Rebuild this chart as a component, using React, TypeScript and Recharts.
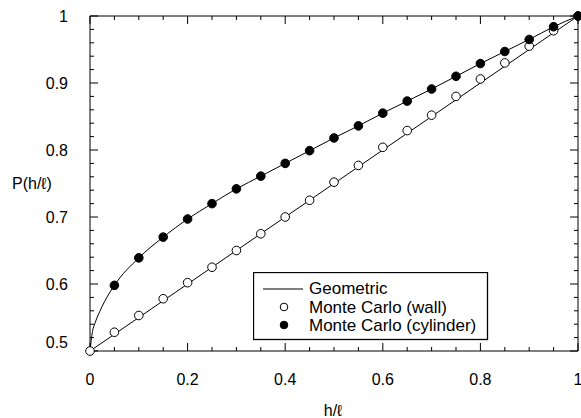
import React from 'react';
import { ComposedChart, Line, XAxis, YAxis, Legend, Label, ReferenceLine } from 'recharts';

// Monte Carlo estimates, sampled every 0.05 in h/l
const wallH = [0, 0.05, 0.1, 0.15, 0.2, 0.25, 0.3, 0.35, 0.4, 0.45, 0.5, 0.55, 0.6, 0.65, 0.7, 0.75, 0.8, 0.85, 0.9, 0.95, 1];
const wallP = [0.5, 0.528, 0.553, 0.578, 0.602, 0.625, 0.65, 0.675, 0.7, 0.725, 0.752, 0.777, 0.804, 0.829, 0.852, 0.88, 0.906, 0.93, 0.955, 0.978, 1];

const cylH = [0.05, 0.1, 0.15, 0.2, 0.25, 0.3, 0.35, 0.4, 0.45, 0.5, 0.55, 0.6, 0.65, 0.7, 0.75, 0.8, 0.85, 0.9, 0.95, 1];
const cylP = [0.598, 0.639, 0.67, 0.697, 0.72, 0.742, 0.761, 0.78, 0.799, 0.818, 0.836, 0.855, 0.873, 0.891, 0.91, 0.929, 0.947, 0.965, 0.984, 1];

// geometric predictions
const geoWallH = [0, 0.5, 1];
const geoWallP = [0.5, 0.75, 1];
const geoCylH = [0, 0.005, 0.01, 0.02, 0.03, 0.05, 0.1, 0.15, 0.2, 0.25, 0.3, 0.35, 0.4, 0.45, 0.5, 0.55, 0.6, 0.65, 0.7, 0.75, 0.8, 0.85, 0.9, 0.95, 1];
const geoCylP = [0.5, 0.529, 0.541, 0.559, 0.574, 0.598, 0.639, 0.67, 0.697, 0.72, 0.742, 0.761, 0.78, 0.799, 0.818, 0.836, 0.855, 0.873, 0.891, 0.91, 0.929, 0.947, 0.965, 0.984, 1];

const xTicks = [0, 0.05, 0.1, 0.15, 0.2, 0.25, 0.3, 0.35, 0.4, 0.45, 0.5, 0.55, 0.6, 0.65, 0.7, 0.75, 0.8, 0.85, 0.9, 0.95, 1];
const xLabels = [0, 0.2, 0.4, 0.6, 0.8, 1];
const yTicks = [0.5, 0.52, 0.54, 0.56, 0.58, 0.6, 0.62, 0.64, 0.66, 0.68, 0.7, 0.72, 0.74, 0.76, 0.78, 0.8, 0.82, 0.84, 0.86, 0.88, 0.9, 0.92, 0.94, 0.96, 0.98, 1];
const yLabels = [0.5, 0.6, 0.7, 0.8, 0.9, 1];

const FONT = '"Liberation Sans", Arial, Helvetica, sans-serif';
const W = 581;
const H = 418;
const MARGIN = { top: 16, right: 3, bottom: 0, left: 0 };
const Y_AXIS_W = 90;
const X_AXIS_H = 67;
const X_MIN = 0;
const X_MAX = 1;
const Y_MIN = 0.5;
const Y_MAX = 1;
const MAJOR = 8;
const MINOR = 4;

// tick lengths in px -> data units
const PLOT_W = W - MARGIN.left - MARGIN.right - Y_AXIS_W;
const PLOT_H = H - MARGIN.top - MARGIN.bottom - X_AXIS_H;
const X_PER_PX = (X_MAX - X_MIN) / PLOT_W;
const Y_PER_PX = (Y_MAX - Y_MIN) / PLOT_H;

const pts = (xs: number[], ys: number[]) => xs.map((x, i) => ({ x, y: ys[i] }));

const isLabel = (v: number, list: number[]) => list.some((l) => Math.abs(l - v) < 1e-9);

// inward ticks on all four sides of the frame
const xTickSegs = xTicks.flatMap((v) => {
  const l = (isLabel(v, xLabels) ? MAJOR : MINOR) * Y_PER_PX;
  return [
    [{ x: v, y: Y_MIN }, { x: v, y: Y_MIN + l }],
    [{ x: v, y: Y_MAX }, { x: v, y: Y_MAX - l }],
  ];
});
const yTickSegs = yTicks.flatMap((v) => {
  const l = (isLabel(v, yLabels) ? MAJOR : MINOR) * X_PER_PX;
  return [
    [{ x: X_MIN, y: v }, { x: X_MIN + l, y: v }],
    [{ x: X_MAX, y: v }, { x: X_MAX - l, y: v }],
  ];
});

const XTickLabel = (props: any) => {
  const v = props.payload.value;
  if (!isLabel(v, xLabels)) return <g />;
  return (
    <text x={Number(props.x)} y={Number(props.y) + 28} dy="0.35em" textAnchor="middle" fontFamily={FONT} fontSize={16} fill="#000">
      {String(v)}
    </text>
  );
};

const YTickLabel = (props: any) => {
  const v = props.payload.value;
  if (!isLabel(v, yLabels)) return <g />;
  const y = Number(props.y);
  return (
    <text x={Number(props.x) - 22} y={v === 0.5 ? y - 9 : y} dy="0.35em" textAnchor="end" fontFamily={FONT} fontSize={16} fill="#000">
      {String(v)}
    </text>
  );
};

const LegendBox = () => (
  <svg width={236} height={69} style={{ display: 'block' }}>
    <rect x={0.5} y={0.5} width={234} height={67} fill="#fff" stroke="#000" strokeWidth={1.3} />
    <line x1={10} x2={50} y1={17} y2={17} stroke="#000" strokeWidth={1} />
    <circle cx={31} cy={35} r={3.8} fill="#fff" stroke="#000" strokeWidth={1} />
    <circle cx={31} cy={53} r={3.8} fill="#000" stroke="#000" strokeWidth={1} />
    <g fontFamily={FONT} fontSize={17} fill="#000">
      <text x={56} y={16} dy="0.35em">Geometric</text>
      <text x={56} y={35} dy="0.35em">Monte Carlo (wall)</text>
      <text x={56} y={53} dy="0.35em">Monte Carlo (cylinder)</text>
    </g>
  </svg>
);

export default function App() {
  const axisLine = { stroke: '#000', strokeWidth: 1 };
  return (
    <div style={{ position: 'absolute', left: 0, top: 0, background: '#fff' }}>
      <ComposedChart width={W} height={H} margin={MARGIN}>
        <XAxis
          xAxisId="b"
          type="number"
          dataKey="x"
          domain={[X_MIN, X_MAX]}
          ticks={xTicks}
          interval={0}
          height={X_AXIS_H}
          tickSize={0}
          tickMargin={0}
          tickLine={false}
          axisLine={axisLine}
          tick={(p: any) => <XTickLabel {...p} />}
        >
          <Label
            content={() => (
              <text x={333} y={410} dy="0.35em" textAnchor="middle" fontFamily={FONT} fontSize={16} fill="#000">
                h/ℓ
              </text>
            )}
          />
        </XAxis>
        <YAxis
          yAxisId="l"
          type="number"
          domain={[Y_MIN, Y_MAX]}
          ticks={yTicks}
          interval={0}
          width={Y_AXIS_W}
          tickSize={0}
          tickMargin={0}
          tickLine={false}
          axisLine={axisLine}
          tick={(p: any) => <YTickLabel {...p} />}
        >
          <Label
            content={() => (
              <text x={12} y={183} dy="0.35em" textAnchor="start" fontFamily={FONT} fontSize={16} fill="#000">
                P(h/ℓ)
              </text>
            )}
          />
        </YAxis>
        {/* top and right edges of the frame */}
        <ReferenceLine xAxisId="b" yAxisId="l" y={Y_MAX} stroke="#000" strokeWidth={1} />
        <ReferenceLine xAxisId="b" yAxisId="l" x={X_MAX} stroke="#000" strokeWidth={1} />
        {xTickSegs.map((s, i) => (
          <ReferenceLine key={`xt${i}`} xAxisId="b" yAxisId="l" segment={s} stroke="#000" strokeWidth={1} />
        ))}
        {yTickSegs.map((s, i) => (
          <ReferenceLine key={`yt${i}`} xAxisId="b" yAxisId="l" segment={s} stroke="#000" strokeWidth={1} />
        ))}
        <Line
          xAxisId="b"
          yAxisId="l"
          data={pts(geoWallH, geoWallP)}
          dataKey="y"
          type="linear"
          stroke="#000"
          strokeWidth={1}
          dot={false}
          activeDot={false}
          legendType="none"
          isAnimationActive={false}
        />
        <Line
          xAxisId="b"
          yAxisId="l"
          data={pts(geoCylH, geoCylP)}
          dataKey="y"
          type="monotone"
          stroke="#000"
          strokeWidth={1}
          dot={false}
          activeDot={false}
          legendType="none"
          isAnimationActive={false}
        />
        <Line
          xAxisId="b"
          yAxisId="l"
          data={pts(wallH, wallP)}
          dataKey="y"
          stroke="none"
          dot={{ r: 4.3, fill: '#fff', stroke: '#000', strokeWidth: 1, clipDot: false }}
          activeDot={false}
          legendType="none"
          isAnimationActive={false}
        />
        <Line
          xAxisId="b"
          yAxisId="l"
          data={pts(cylH, cylP)}
          dataKey="y"
          stroke="none"
          dot={{ r: 4.3, fill: '#000', stroke: '#000', strokeWidth: 1, clipDot: false }}
          activeDot={false}
          legendType="none"
          isAnimationActive={false}
        />
        <Legend
          layout="horizontal"
          verticalAlign="middle"
          align="center"
          wrapperStyle={{ left: 253, top: 272, width: 236, height: 69 }}
          content={() => <LegendBox />}
        />
      </ComposedChart>
    </div>
  );
}
